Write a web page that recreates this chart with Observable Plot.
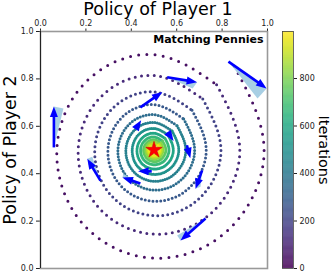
<!DOCTYPE html>
<html><head><meta charset="utf-8">
<script src="https://cdn.jsdelivr.net/npm/d3@7"></script>
<script src="https://cdn.jsdelivr.net/npm/@observablehq/plot@0.6"></script>
<style>
body{margin:0;background:#fff;font-family:"DejaVu Sans",sans-serif;}
#wrap{position:relative;width:332px;height:273px;overflow:hidden;}
#wrap > svg{position:absolute;top:0;overflow:visible;}
</style></head><body><div id="wrap"></div>
<script>
// ---- data ----
// spiral radius (policy units from the (0.5,0.5) equilibrium) every eighth of a turn,
// starting at the upper-right bearing and moving clockwise
const ringRadius = [
 .500,.485,.470,.456,.442,.428,.415,.402,
 .390,.378,.367,.355,.344,.334,.324,.314,
 .304,.295,.286,.277,.269,.261,.253,.245,
 .237,.230,.223,.216,.210,.203,.197,.191,
 .185,.179,.174,.169,.164,.159,.154,.149,
 .144,.140,.136,.132,.128,.124,.120,.116,
 .113,.109,.106,.103,.100,.096,.094,.091,
 .088,.085,.083,.080,.078,.075,.073,.071,
 .069,.066,.064,.062,.061,.059,.057,.055,
 .053,.052,.050,.049,.047,.046,.044,.043,
 .042,.040,.039,.038,.037,.036,.035,.034,
 .033,.032,.031,.030,.029,.028,.027,.026,
 .025,.025,.024,.023,.022,.022,.021];
const bearings = [45, 0, -45, -90, -135, -180, -225, -270];
// iteration (colour) at the middle of each turn of the spiral
const turnIter = [39,118,196,275,353,432,510,589,667,746,824,903,970];
const itersPerTurn = 78.5;
// update arrows (start -> tip) and their shaded wedges
const arrowX1 = [0.828,0.558,0.059,0.264,0.440,0.440,0.727,0.712,0.645,0.420,0.560,0.490];
const arrowY1 = [0.873,0.807,0.511,0.371,0.359,0.680,0.211,0.414,0.520,0.590,0.575,0.410];
const arrowX2 = [0.996,0.690,0.059,0.206,0.361,0.537,0.617,0.683,0.660,0.440,0.585,0.430];
const arrowY2 = [0.760,0.786,0.684,0.463,0.384,0.745,0.118,0.336,0.465,0.620,0.540,0.410];
const shadeX  = [0.956,0.670,0.101,0.228,0.365,null,0.602,0.705,null,null,null,null];
const shadeY  = [0.717,0.760,0.675,0.472,0.400,null,0.139,0.345,null,null,null,null];
const xTicks = [0,0.2,0.4,0.6,0.8,1.0];
const yTicks = [0,0.2,0.4,0.6,0.8,1.0];
const cbTicks = [0,200,400,600,800];
const iterMax = 998;
const title = "Matching Pennies";

// ---- build ----
const pts = ringRadius.map((r,k)=>{
  const a = bearings[k%8]*Math.PI/180;
  return {k, x:0.5+r*Math.cos(a), y:0.5+r*Math.sin(a)};
});
const SX = 227, SY = 237;            // pixels per policy unit (frame size)
const pxPerUnit = (SX+SY)/2;
const spiralMarks = turnIter.map((it,t)=>{
  const seg = pts.slice(8*t, Math.min(8*t+9, pts.length));
  const rMid = ringRadius[Math.min(8*t+4, ringRadius.length-1)];
  const gap = 2*Math.PI*rMid*pxPerUnit/itersPerTurn;
  return Plot.line(seg, {x:"x", y:"y", curve:"natural", stroke:()=>it,
    strokeWidth:3, strokeLinecap:"round", strokeDasharray:`0 ${gap.toFixed(2)}`});
});
// quiver-like head: long narrow filled triangle, tip 6.5px ahead of its origin
const HEAD_BACK = 6.5;
const headSymbol = {draw(ctx){ ctx.moveTo(0,-6.5); ctx.lineTo(-4,4); ctx.lineTo(4,4); ctx.closePath(); }};
const arrows = arrowX1.map((_,i)=>{
  const x1=arrowX1[i], y1=arrowY1[i], x2=arrowX2[i], y2=arrowY2[i];
  const dx=(x2-x1)*SX, dy=(y2-y1)*SY, L=Math.hypot(dx,dy);
  const back=Math.min(HEAD_BACK, L*0.6);
  return {i, x1, y1, x2, y2,
    hx: x2 - dx/L*back/SX, hy: y2 - dy/L*back/SY,
    rot: Math.atan2(dx, dy)*180/Math.PI};
});
const wedges = [];
arrows.forEach(a=>{
  if (shadeX[a.i]==null) return;
  wedges.push({id:a.i,x:a.x1,y:a.y1},{id:a.i,x:a.x2,y:a.y2},{id:a.i,x:shadeX[a.i],y:shadeY[a.i]});
});

const main = Plot.plot({
  width:278, height:273,
  marginLeft:40, marginRight:11, marginTop:31, marginBottom:5,
  style:{fontFamily:"DejaVu Sans, sans-serif", fontSize:"8px", color:"#222", background:"transparent"},
  x:{domain:[0,1], axis:"top", ticks:xTicks, tickFormat:d3.format(".1f"), label:null, tickSize:3.5, tickPadding:2},
  y:{domain:[0,1], ticks:yTicks, tickFormat:d3.format(".1f"), label:null, tickSize:4, tickPadding:3},
  color:{type:"linear", scheme:"viridis", domain:[0,iterMax]},
  marks:[
    ...spiralMarks,
    Plot.line(wedges, {x:"x", y:"y", z:"id", fill:"#9ecae1", fillOpacity:0.9, stroke:"none"}),
    Plot.link(arrows, {x1:"x1", y1:"y1", x2:"hx", y2:"hy", stroke:"#0000ff", strokeWidth:2.6}),
    Plot.dot(arrows, {x:"hx", y:"hy", symbol:headSymbol, r:4, rotate:"rot", fill:"#0000ff", stroke:"none"}),
    Plot.dot([{x:0.5,y:0.5}], {x:"x", y:"y", symbol:"star", r:5.2, fill:"#ff0000", stroke:"#c00000", strokeWidth:0.5}),
    Plot.frame({stroke:"#999", strokeWidth:1.6}),
    Plot.ruleX([0], {stroke:"#222", strokeWidth:1}),
    Plot.text([title], {frameAnchor:"top-right", dx:-4, dy:4, fontWeight:"bold", fontSize:11, fill:"#000"}),
    Plot.text(["Policy of Player 1"], {frameAnchor:"top", dx:4, dy:-22.5, lineAnchor:"middle", fontSize:17.5, fill:"#000"}),
    Plot.text(["Policy of Player 2"], {frameAnchor:"left", dx:-30, rotate:-90, textAnchor:"middle", lineAnchor:"middle", fontSize:17.5, fill:"#000"})
  ]
});
main.style.left = "0px";

const cbData = d3.range(0, iterMax, 2);
const cb = Plot.plot({
  width:60, height:273,
  marginLeft:10, marginRight:39, marginTop:31, marginBottom:5,
  style:{fontFamily:"DejaVu Sans, sans-serif", fontSize:"8px", color:"#222", background:"transparent"},
  x:{domain:[0,1], axis:null},
  y:{domain:[0,iterMax], axis:"right", ticks:cbTicks, label:null, tickSize:3, tickPadding:3},
  color:{type:"linear", scheme:"viridis", domain:[0,iterMax]},
  marks:[
    Plot.rect(cbData, {x1:()=>0, x2:()=>1, y1:d=>d, y2:d=>Math.min(d+2.6,iterMax), fill:d=>d+1}),
    Plot.frame({stroke:"#444", strokeWidth:0.8}),
    Plot.text(["Iterations"], {frameAnchor:"right", dx:30, rotate:90, textAnchor:"middle", lineAnchor:"middle", fontSize:14.5, fill:"#000"})
  ]
});
cb.style.left = "272px";
const wrap = document.getElementById("wrap");
wrap.append(main, cb);
</script></body></html>
